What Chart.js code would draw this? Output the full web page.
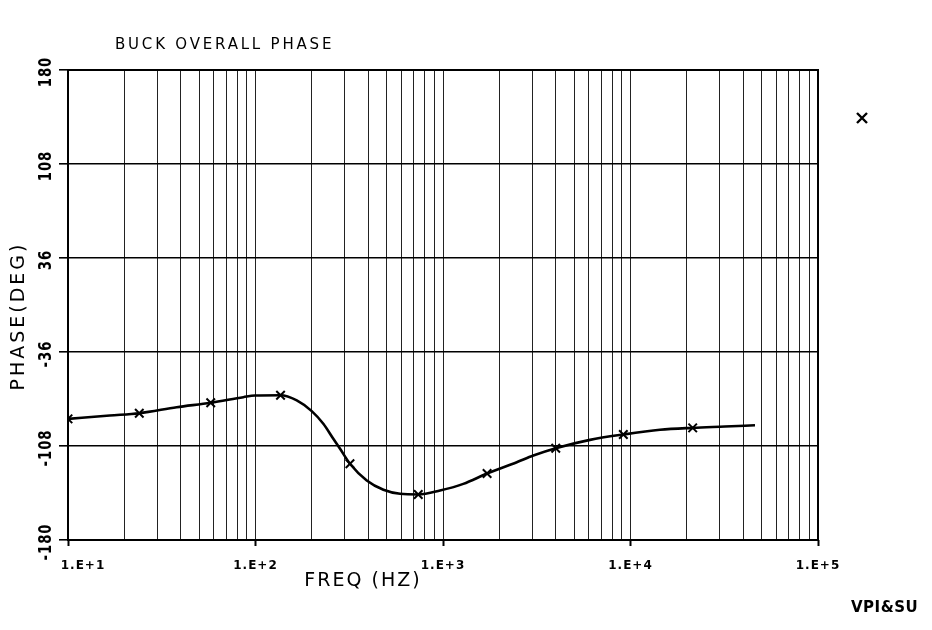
<!DOCTYPE html>
<html>
<head>
<meta charset="utf-8">
<script src="https://cdn.jsdelivr.net/npm/chart.js@4.4.1/dist/chart.umd.min.js"></script>
<style>
  html, body { margin: 0; padding: 0; background: #ffffff; }
  #wrap { width: 932px; height: 630px; position: relative; }
</style>
</head>
<body>
<div id="wrap"><canvas id="c" width="932" height="630"></canvas></div>
<script>
// ---- data ----
const curveFreq  = [10, 16.7, 24.0, 38.0, 57.7, 86.1, 99.4, 136, 166, 199.5, 230, 260, 282.5, 319, 392, 481, 590, 738, 964, 1283, 1718, 2474, 3033, 3993, 6083, 9158, 14370, 21460, 31900, 46130];
const curvePhase = [-87.2, -84.6, -82.9, -78.3, -74.9, -70.6, -69.3, -69.1, -73.1, -81.3, -91.0, -102.5, -110.1, -121.6, -134.4, -141.5, -144.6, -145.1, -142.1, -137.0, -129.1, -120.4, -115.3, -109.7, -103.3, -99.2, -95.6, -94.1, -93.1, -92.1];
const markerFreq  = [10, 24.0, 57.7, 136, 319, 738, 1718, 3993, 9158, 21460];
const markerPhase = [-87.2, -82.9, -74.9, -69.1, -121.6, -145.1, -129.1, -109.7, -99.2, -94.1];

const decades = [10, 100, 1000, 10000, 100000];
const decadeLabels = ["1.E+1", "1.E+2", "1.E+3", "1.E+4", "1.E+5"];
const minorMultipliers = [2, 3, 4, 5, 6, 7, 8, 9];
const yTicks = [-180, -108, -36, 36, 108, 180];
const yTickLabels = ["-180", "-108", "-36", "36", "108", "180"];

const titleText = "BUCK OVERALL PHASE";
const xTitle = "FREQ (HZ)";
const yTitle = "PHASE(DEG)";
const footer = "VPI&SU";

// ---- build ----
const curveData = curveFreq.map((f, i) => ({ x: f, y: curvePhase[i] }));
const markerData = markerFreq.map((f, i) => ({ x: f, y: markerPhase[i] }));
const xTickValues = [];
decades.forEach((d, i) => {
  xTickValues.push(d);
  if (i < decades.length - 1) minorMultipliers.forEach(m => xTickValues.push(d * m));
});
xTickValues.sort((a, b) => a - b);
const isDecade = v => decades.indexOf(v) >= 0;

const FONT = "'DejaVu Sans', 'Liberation Sans', sans-serif";

const textPlugin = {
  id: 'textPlugin',
  afterDraw(chart) {
    const ctx = chart.ctx;
    const a = chart.chartArea;
    const xs = chart.scales.x, ys = chart.scales.y;
    ctx.save();
    // frame
    ctx.strokeStyle = '#000';
    ctx.lineWidth = 2;
    ctx.strokeRect(a.left, a.top, a.right - a.left, a.bottom - a.top);

    ctx.fillStyle = '#000';
    // x tick labels
    ctx.font = "bold 12px " + FONT;
    ctx.textAlign = 'center';
    ctx.textBaseline = 'middle';
    try { ctx.letterSpacing = '1px'; } catch (e) {}
    decades.forEach((d, i) => {
      let px = xs.getPixelForValue(d);
      if (i === 0) px += 15;
      ctx.fillText(decadeLabels[i], px, 566);
    });
    // y tick labels (rotated)
    ctx.font = "bold 14px " + FONT;
    yTicks.forEach((v, i) => {
      const py = ys.getPixelForValue(v) + 2;
      ctx.save();
      ctx.translate(47, py);
      ctx.rotate(-Math.PI / 2);
      ctx.scale(0.95, 1.2);
      ctx.fillText(yTickLabels[i], 0, 0);
      ctx.restore();
    });
    // title
    ctx.textAlign = 'left';
    ctx.font = "15px " + FONT;
    try { ctx.letterSpacing = '2.8px'; } catch (e) {}
    ctx.fillText(titleText, 115, 45);
    // x axis title
    ctx.textAlign = 'center';
    ctx.font = "19px " + FONT;
    try { ctx.letterSpacing = '2px'; } catch (e) {}
    ctx.fillText(xTitle, 363, 581);
    // y axis title
    ctx.save();
    ctx.translate(19, 316);
    ctx.rotate(-Math.PI / 2);
    try { ctx.letterSpacing = '3px'; } catch (e) {}
    ctx.fillText(yTitle, 0, 0);
    ctx.restore();
    // footer
    ctx.textAlign = 'left';
    ctx.font = "bold 15px " + FONT;
    try { ctx.letterSpacing = '0.5px'; } catch (e) {}
    ctx.fillText(footer, 851, 608);
    // legend-like marker at right
    ctx.strokeStyle = '#000';
    ctx.lineWidth = 2.4;
    ctx.beginPath();
    ctx.moveTo(857, 113); ctx.lineTo(867, 123);
    ctx.moveTo(867, 113); ctx.lineTo(857, 123);
    ctx.stroke();
    ctx.restore();
  }
};

new Chart(document.getElementById('c'), {
  type: 'scatter',
  data: {
    datasets: [
      {
        label: 'phase',
        data: curveData,
        showLine: true,
        borderColor: '#000',
        borderWidth: 2.6,
        pointRadius: 0,
        cubicInterpolationMode: 'monotone',
        fill: false
      },
      {
        label: 'markers',
        data: markerData,
        showLine: false,
        pointStyle: 'crossRot',
        pointRadius: 6,
        borderColor: '#000',
        borderWidth: 2,
        backgroundColor: '#000'
      }
    ]
  },
  options: {
    responsive: false,
    animation: false,
    devicePixelRatio: 1,
    layout: { padding: { top: 70, right: 114, left: 0, bottom: 0 } },
    plugins: { legend: { display: false }, tooltip: { enabled: false }, title: { display: false } },
    scales: {
      x: {
        type: 'logarithmic',
        min: 10,
        max: 100000,
        afterBuildTicks: s => { s.ticks = xTickValues.map(v => ({ value: v })); },
        afterFit: s => { s.height = 90; },
        ticks: { display: false },
        border: { display: false },
        grid: {
          color: '#222',
          lineWidth: 1,
          drawTicks: true,
          tickLength: 6,
          tickWidth: 2,
          tickColor: c => (c.tick && isDecade(c.tick.value)) ? '#000' : 'rgba(0,0,0,0)'
        }
      },
      y: {
        type: 'linear',
        min: -180,
        max: 180,
        afterBuildTicks: s => { s.ticks = yTicks.map(v => ({ value: v })); },
        afterFit: s => { s.width = 68; },
        ticks: { display: false },
        border: { display: false },
        grid: {
          color: '#000',
          lineWidth: 1.6,
          drawTicks: true,
          tickLength: 9,
          tickColor: '#000'
        }
      }
    }
  },
  plugins: [textPlugin]
});
</script>
</body>
</html>
